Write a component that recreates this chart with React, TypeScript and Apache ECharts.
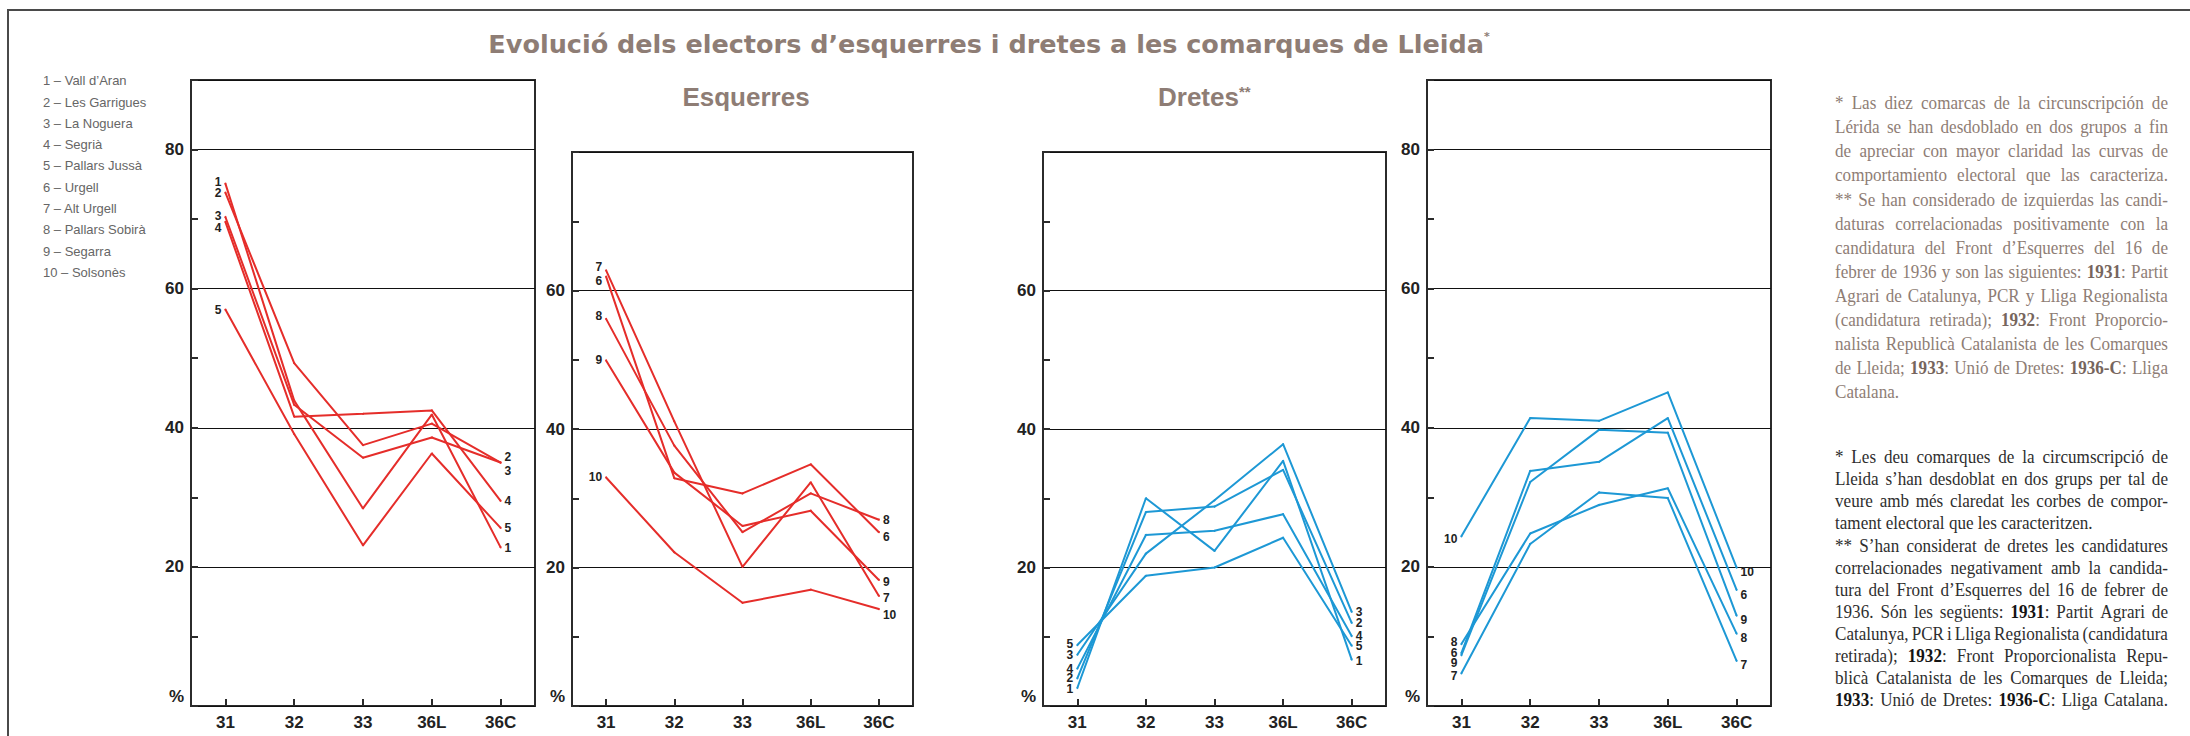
import React, { useEffect, useRef } from 'react';
import * as echarts from 'echarts';

// ---------------- DATA ----------------
const CATEGORIES = ['31', '32', '33', '36L', '36C'];

const COMARQUES = [
  'Vall d’Aran', 'Les Garrigues', 'La Noguera', 'Segrià', 'Pallars Jussà',
  'Urgell', 'Alt Urgell', 'Pallars Sobirà', 'Segarra', 'Solsonès',
];

// Esquerres, comarques 1-5
const ESQ1_IDS = ['1', '2', '3', '4', '5'];
const ESQ1_VALUES = [
  [75.1, 43.9, 28.4, 41.9, 22.8],
  [73.8, 49.3, 37.5, 40.6, 35.0],
  [70.3, 43.3, 35.7, 38.6, 35.0],
  [69.6, 41.6, 42.0, 42.5, 29.5],
  [57.0, 39.1, 23.1, 36.3, 25.6],
];

// Esquerres, comarques 6-10
const ESQ2_IDS = ['6', '7', '8', '9', '10'];
const ESQ2_VALUES = [
  [62.0, 32.9, 30.7, 34.9, 25.1],
  [62.9, 41.1, 20.1, 32.3, 15.9],
  [55.9, 37.6, 25.1, 30.7, 26.9],
  [49.9, 33.7, 26.0, 28.2, 18.2],
  [33.0, 22.2, 14.9, 16.8, 14.0],
];

// Dretes, comarques 1-5
const DRE1_IDS = ['1', '2', '3', '4', '5'];
const DRE1_VALUES = [
  [2.6, 30.0, 22.4, 35.4, 6.7],
  [4.0, 28.0, 28.8, 34.1, 12.0],
  [7.4, 22.0, 29.7, 37.8, 13.6],
  [5.4, 24.7, 25.3, 27.7, 10.1],
  [8.8, 18.8, 20.0, 24.3, 8.7],
];

// Dretes, comarques 6-10
const DRE2_IDS = ['6', '7', '8', '9', '10'];
const DRE2_VALUES = [
  [7.6, 33.8, 35.1, 41.4, 16.7],
  [4.7, 23.3, 30.7, 29.9, 6.5],
  [8.9, 24.8, 28.9, 31.3, 10.4],
  [7.3, 32.2, 39.7, 39.3, 13.0],
  [24.4, 41.4, 41.0, 45.1, 19.9],
];

const Y_LABELS_TALL = [20, 40, 60, 80];
const Y_LABELS_SHORT = [20, 40, 60];

const TITLE = 'Evolució dels electors d’esquerres i dretes a les comarques de Lleida';
const SUB_LEFT = 'Esquerres';
const SUB_RIGHT = 'Dretes';

const NOTES_ES = [
  '* Las diez comarcas de la circunscripción de',
  'Lérida se han desdoblado en dos grupos a fin',
  'de apreciar con mayor claridad las curvas de',
  'comportamiento electoral que las caracteriza.',
  '** Se han considerado de izquierdas las candi-',
  'daturas correlacionadas positivamente con la',
  'candidatura del Front d’Esquerres del 16 de',
  'febrer de 1936 y son las siguientes: {b|1931}: Partit',
  'Agrari de Catalunya, PCR y Lliga Regionalista',
  '(candidatura retirada); {b|1932}: Front Proporcio-',
  'nalista Republicà Catalanista de les Comarques',
  'de Lleida; {b|1933}: Unió de Dretes: {b|1936-C}: Lliga',
  'Catalana.',
];
const NOTES_ES_RAGGED = [12];

const NOTES_CA = [
  '* Les deu comarques de la circumscripció de',
  'Lleida s’han desdoblat en dos grups per tal de',
  'veure amb més claredat les corbes de compor-',
  'tament electoral que les caracteritzen.',
  '** S’han considerat de dretes les candidatures',
  'correlacionades negativament amb la candida-',
  'tura del Front d’Esquerres del 16 de febrer de',
  '1936. Són les següents: {b|1931}: Partit Agrari de',
  'Catalunya, PCR i Lliga Regionalista (candidatura',
  'retirada); {b|1932}: Front Proporcionalista Repu-',
  'blicà Catalanista de les Comarques de Lleida;',
  '{b|1933}: Unió de Dretes: {b|1936-C}: Lliga Catalana.',
];
const NOTES_CA_RAGGED = [3];

// ---------------- STYLE / LAYOUT ----------------
const W = 2190;
const H = 736;
const RED = '#e52d2a';
const BLUE = '#1d98d5';
const BROWN = '#8e7d75';
const SANS = '"Liberation Sans", Arial, Helvetica, sans-serif';
const SERIF = '"Liberation Serif", "Times New Roman", serif';
const NOTE_SIZE = 18;
const NOTE_SCALE_X = 0.95;
const NOTE_LEFT = 1835;
const NOTE_RIGHT = 2168;

const PANELS = [
  { ids: ESQ1_IDS, values: ESQ1_VALUES, color: RED, left: 191, right: 535, top: 80, bottom: 706, max: 90, labels: Y_LABELS_TALL,
    startDy: [-2, 0, -1, 6, 0], endDy: [1, -6, 8, 0, 0] },
  { ids: ESQ2_IDS, values: ESQ2_VALUES, color: RED, left: 572, right: 913, top: 152, bottom: 706, max: 80, labels: Y_LABELS_SHORT,
    startDy: [4, -3, -3, 0, 0], endDy: [5, 2, 0, 2, 6] },
  { ids: DRE1_IDS, values: DRE1_VALUES, color: BLUE, left: 1043, right: 1386, top: 152, bottom: 706, max: 80, labels: Y_LABELS_SHORT,
    startDy: [1, 0, 0, 0, -1], endDy: [1, 0, 0, 0, 0] },
  { ids: DRE2_IDS, values: DRE2_VALUES, color: BLUE, left: 1427, right: 1771, top: 80, bottom: 706, max: 90, labels: Y_LABELS_TALL,
    startDy: [0, 3, -2, 8, 3], endDy: [5, 4, 4, 4, 4] },
];

let measureCtx: CanvasRenderingContext2D | null = null;
function measure(text: string, bold: boolean): number {
  if (!measureCtx) measureCtx = document.createElement('canvas').getContext('2d');
  if (!measureCtx) return text.length * NOTE_SIZE * 0.45;
  measureCtx.font = `${bold ? 'bold ' : ''}${NOTE_SIZE}px ${SERIF}`;
  return measureCtx.measureText(text).width;
}
function richWidth(word: string): number {
  let w = 0;
  let last = 0;
  const re = /\{b\|([^}]*)\}/g;
  let m: RegExpExecArray | null;
  while ((m = re.exec(word))) {
    if (m.index > last) w += measure(word.slice(last, m.index), false);
    w += measure(m[1], true);
    last = re.lastIndex;
  }
  if (last < word.length) w += measure(word.slice(last), false);
  return w * NOTE_SCALE_X;
}

function noteElements(lines: string[], ragged: number[], y0: number, step: number, fill: string, boldFill: string) {
  const els: any[] = [];
  const baseStyle = (text: string) => ({
    text, fill, fontFamily: SERIF, fontSize: NOTE_SIZE, textVerticalAlign: 'middle',
    rich: { b: { fontFamily: SERIF, fontSize: NOTE_SIZE, fontWeight: 'bold', fill: boldFill } },
  });
  lines.forEach((line, i) => {
    const y = y0 + step * i;
    if (ragged.indexOf(i) >= 0) {
      els.push({ type: 'text', silent: true, x: NOTE_LEFT, y, scaleX: NOTE_SCALE_X, style: baseStyle(line) });
      return;
    }
    const words = line.split(' ');
    const widths = words.map(richWidth);
    const total = widths.reduce((a, b) => a + b, 0);
    const gap = Math.max(2.5, (NOTE_RIGHT - NOTE_LEFT - total) / Math.max(1, words.length - 1));
    let x = NOTE_LEFT;
    words.forEach((w, k) => {
      els.push({ type: 'text', silent: true, x, y, scaleX: NOTE_SCALE_X, style: baseStyle(w) });
      x += widths[k] + gap;
    });
  });
  return els;
}

function buildOption() {
  const grid: any[] = [];
  const xAxis: any[] = [];
  const yAxis: any[] = [];
  const series: any[] = [];

  PANELS.forEach((p, i) => {
    grid.push({
      left: p.left, top: p.top, width: p.right - p.left, height: p.bottom - p.top,
      show: true, borderColor: '#2b2b2b', borderWidth: 2, backgroundColor: 'transparent',
      outerBoundsMode: 'none',
    });
    xAxis.push({
      type: 'category', gridIndex: i, data: CATEGORIES, boundaryGap: true,
      axisLine: { show: false },
      axisTick: { show: true, inside: true, alignWithLabel: true, length: 7, lineStyle: { color: '#2b2b2b', width: 2 } },
      axisLabel: { margin: 8, fontSize: 17, fontWeight: 'bold', color: '#222', fontFamily: SANS },
      splitLine: { show: false },
    });
    yAxis.push({
      type: 'value', gridIndex: i, min: 0, max: p.max, interval: 10, position: 'left',
      axisLine: { show: false },
      axisTick: { show: true, inside: true, length: 7, lineStyle: { color: '#2b2b2b', width: 2 } },
      splitLine: { show: false },
      axisLabel: {
        margin: 7, fontSize: 17, fontWeight: 'bold', color: '#222', fontFamily: SANS,
        showMaxLabel: true, showMinLabel: true,
        formatter: (v: number) => (v === 0 ? '{p|%}' : p.labels.indexOf(v) >= 0 ? String(v) : ''),
        rich: { p: { padding: [0, 0, 20, 0], fontSize: 17, fontWeight: 'bold', color: '#222', fontFamily: SANS } },
      },
    });
    yAxis.push({
      type: 'value', gridIndex: i, min: 0, max: p.max, interval: 20, position: 'right',
      axisLine: { show: false }, axisTick: { show: false }, axisLabel: { show: false },
      splitLine: { show: true, lineStyle: { color: '#111', width: 1 } },
    });

    p.values.forEach((vals, j) => {
      const labelBase = {
        show: true, formatter: p.ids[j], fontSize: 12, fontWeight: 'bold', color: '#222', fontFamily: SANS, distance: 3,
      };
      const data = vals.map((v, k) => {
        if (k === 0) return { value: v, label: { ...labelBase, position: 'left', offset: [0, p.startDy[j]] } };
        if (k === vals.length - 1) return { value: v, label: { ...labelBase, position: 'right', offset: [0, p.endDy[j]] } };
        return v;
      });
      series.push({
        type: 'line', name: `${i}-${p.ids[j]}`, xAxisIndex: i, yAxisIndex: 2 * i, data,
        symbol: 'circle', symbolSize: 2, showSymbol: true, showAllSymbol: true,
        itemStyle: { color: p.color }, lineStyle: { color: p.color, width: 2 },
        label: { show: false }, z: 3, silent: true, emphasis: { disabled: true },
      });
    });
  });

  const graphic: any[] = [];
  graphic.push({ type: 'rect', silent: true, shape: { x: 8, y: 10, width: 2400, height: 900 },
    style: { fill: 'none', stroke: '#4a4a4a', lineWidth: 2 } });
  graphic.push({ type: 'text', silent: true, x: 989, y: 44, style: {
    text: TITLE + '{sup|*}', fill: BROWN, fontFamily: '"DejaVu Sans", sans-serif', fontWeight: 'bold', fontSize: 25.5,
    textAlign: 'center', textVerticalAlign: 'middle',
    rich: { sup: { fontSize: 11, fontFamily: '"DejaVu Sans", sans-serif', fontWeight: 'bold', fill: BROWN, verticalAlign: 'top' } },
  } });
  graphic.push({ type: 'text', silent: true, x: 746, y: 97, style: {
    text: SUB_LEFT, fill: BROWN, fontFamily: SANS, fontWeight: 'bold', fontSize: 26, textAlign: 'center', textVerticalAlign: 'middle',
  } });
  graphic.push({ type: 'text', silent: true, x: 1158, y: 97, style: {
    text: SUB_RIGHT + '{sup|**}', fill: BROWN, fontFamily: SANS, fontWeight: 'bold', fontSize: 26, textAlign: 'left', textVerticalAlign: 'middle',
    rich: { sup: { fontSize: 15, fontFamily: SANS, fontWeight: 'bold', fill: BROWN, verticalAlign: 'top' } },
  } });
  COMARQUES.forEach((c, i) => {
    graphic.push({ type: 'text', silent: true, x: 43, y: 80.7 + 21.3 * i, style: {
      text: `${i + 1} – ${c}`, fill: '#666', fontFamily: SANS, fontSize: 13, textVerticalAlign: 'middle',
    } });
  });
  graphic.push(...noteElements(NOTES_ES, NOTES_ES_RAGGED, 103, 24.1, BROWN, '#76655d'));
  graphic.push(...noteElements(NOTES_CA, NOTES_CA_RAGGED, 457, 22.1, '#2e2e2e', '#141414'));

  return {
    animation: false,
    backgroundColor: '#ffffff',
    grid, xAxis, yAxis, series, graphic,
  };
}

export default function App() {
  const ref = useRef<HTMLDivElement>(null);
  useEffect(() => {
    if (!ref.current) return;
    const chart = echarts.init(ref.current, null, { renderer: 'svg', width: W, height: H });
    chart.setOption(buildOption() as any);
    return () => chart.dispose();
  }, []);
  return (
    <div
      ref={ref}
      style={{ position: 'fixed', left: 0, top: 0, width: W, height: H, background: '#fff' }}
    />
  );
}
